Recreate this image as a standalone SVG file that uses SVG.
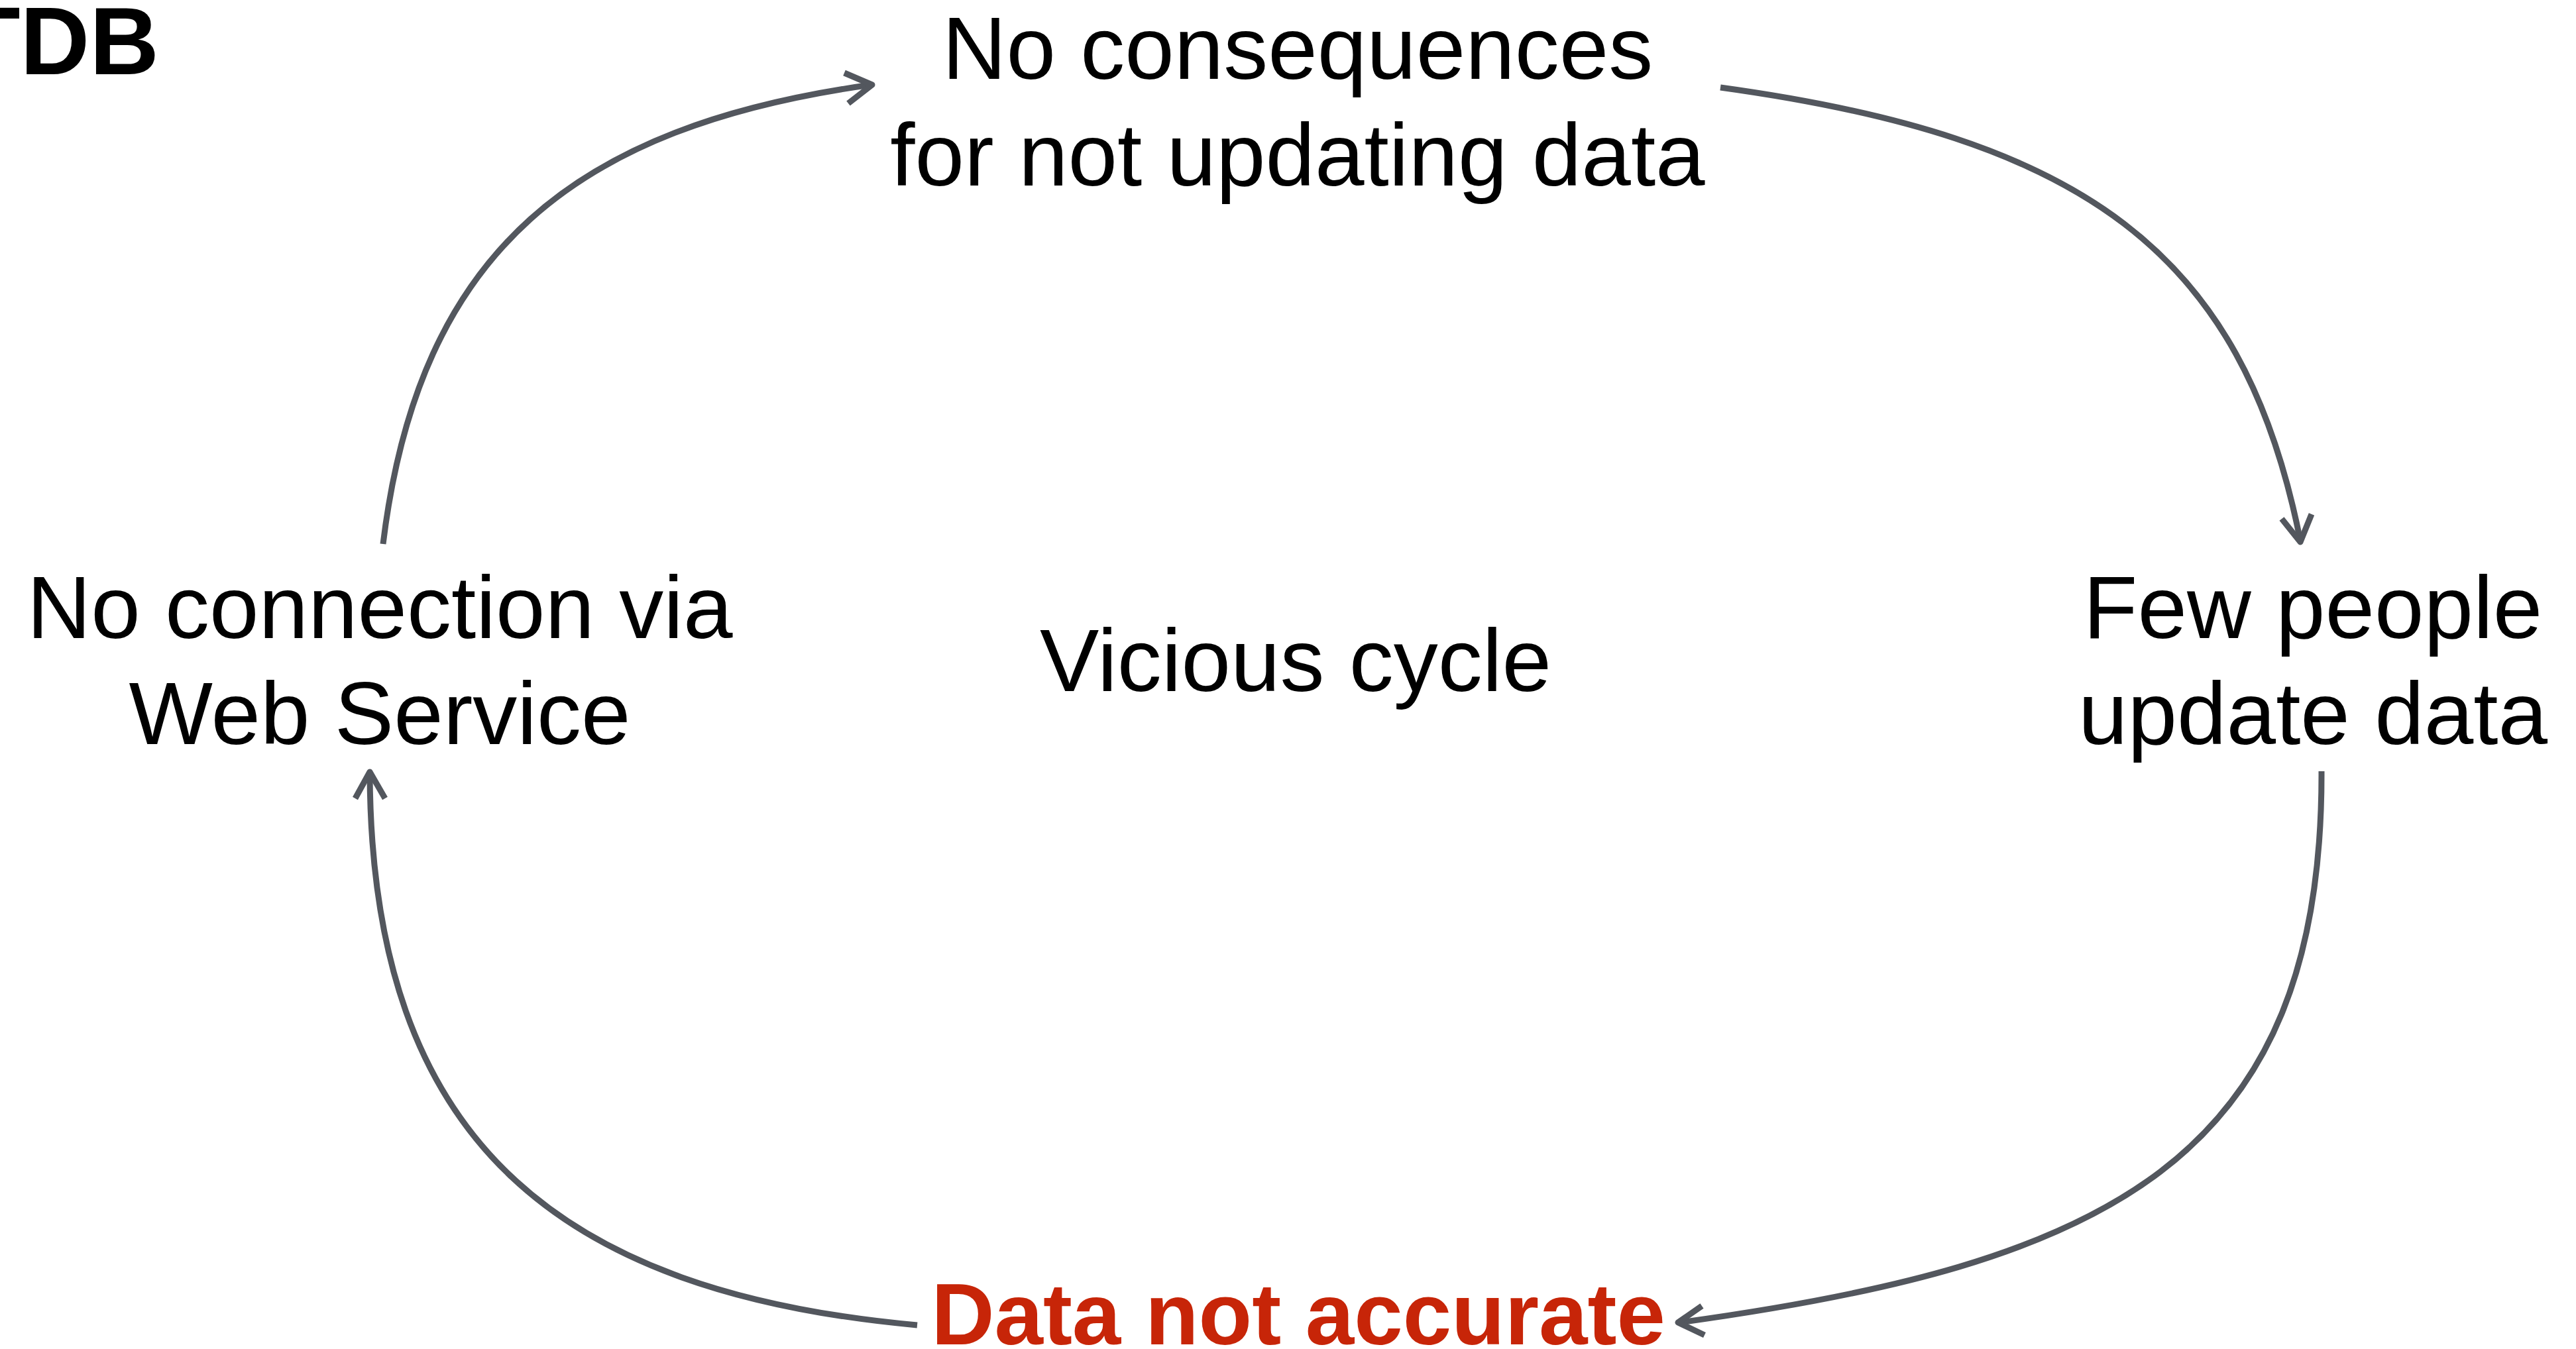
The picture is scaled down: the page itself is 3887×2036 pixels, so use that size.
<svg xmlns="http://www.w3.org/2000/svg" width="3887" height="2036" viewBox="0 0 3887 2036">
<style>
.lbl{font-family:"Liberation Sans",Arial,Helvetica,sans-serif;font-size:134px;fill:#000;text-anchor:middle}
.conn{fill:none;stroke:#53575e;stroke-width:9}
.head{fill:none;stroke:#53575e;stroke-width:9;stroke-linejoin:round;stroke-linecap:butt}
</style>
<rect width="3887" height="2036" fill="#fff"/>
<g id="title"><text x="-58" y="112" style="font-family:'Liberation Sans',Arial,sans-serif;font-size:145px;font-weight:bold;fill:#000">TDB</text></g>
<g id="node-consequences"><text class="lbl" x="1958" y="119">No consequences</text><text class="lbl" x="1958" y="280">for not updating data</text></g>
<g id="node-few-people"><text class="lbl" x="3490" y="963">Few people</text><text class="lbl" x="3490" y="1123">update data</text></g>
<g id="node-data-not-accurate"><text class="lbl" x="1959" y="2029" style="font-weight:bold;fill:#c72508;font-size:132px">Data not accurate</text></g>
<g id="node-no-connection"><text class="lbl" x="573" y="963">No connection via</text><text class="lbl" x="573" y="1123">Web Service</text></g>
<g id="center-label"><text class="lbl" x="1955" y="1043">Vicious cycle</text></g>
<g id="connectors">
<path class="conn" d="M578,821 C632,376 871,190 1314,128"/>
<polyline class="head" points="1274,110 1316,128 1280,156"/>
<path class="conn" d="M2596,132 C3140,207 3384,377 3471,816"/>
<polyline class="head" points="3443,783 3471,818 3488,776"/>
<path class="conn" d="M3503,1164 C3505,1754 3176,1908 2534,1996"/>
<polyline class="head" points="2568,1971 2532,1996 2572,2015"/>
<path class="conn" d="M1384,2000 C846,1951 560,1725 558,1167"/>
<polyline class="head" points="536,1205 558,1165 581,1205"/>
</g>
</svg>
